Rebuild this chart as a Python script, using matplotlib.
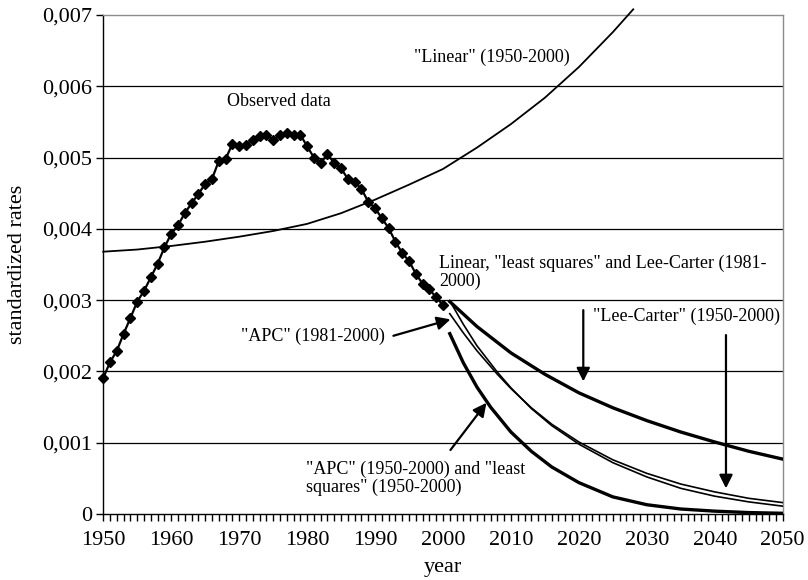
import numpy as np
import matplotlib
matplotlib.use("Agg")
import matplotlib.pyplot as plt
from matplotlib.ticker import FuncFormatter, MultipleLocator

plt.rcParams['font.family'] = ['Liberation Serif', 'DejaVu Serif']

# Observed standardized rates, 1950-2000
obs_years = list(range(1950, 2001))
obs_rates = [
    0.00191, 0.00213, 0.00229, 0.00253, 0.00275, 0.00298, 0.00313, 0.00332, 0.00351, 0.00374,
    0.00393, 0.00405, 0.00422, 0.00436, 0.00449, 0.00463, 0.00470, 0.00495, 0.00498, 0.00519,
    0.00516, 0.00517, 0.00525, 0.00530, 0.00532, 0.00525, 0.00531, 0.00535, 0.00532, 0.00532,
    0.00516, 0.00500, 0.00492, 0.00505, 0.00492, 0.00485, 0.00470, 0.00466, 0.00456, 0.00438,
    0.00429, 0.00415, 0.00401, 0.00382, 0.00366, 0.00355, 0.00337, 0.00323, 0.00315, 0.00304,
    0.00293,
]

# "Linear" model fitted on 1950-2000
lin_years = [1950, 1955, 1960, 1965, 1970, 1975, 1980, 1985, 1990, 1995,
             2000, 2005, 2010, 2015, 2020, 2025, 2028]
lin_rates = [0.00368, 0.00371, 0.00376, 0.00382, 0.00389, 0.00397, 0.00407, 0.00422, 0.00441, 0.00462,
             0.00484, 0.00514, 0.00547, 0.00584, 0.00627, 0.00676, 0.00708]

# Lee-Carter projection fitted on 1950-2000
lc_years = [2001, 2005, 2010, 2015, 2020, 2025, 2030, 2035, 2040, 2045, 2050]
lc_rates = [0.00298, 0.00263, 0.00226, 0.00196, 0.00170, 0.00149, 0.00131, 0.00115, 0.00101, 0.00088, 0.00077]

proj_years = [2001, 2003, 2005, 2008, 2010, 2013, 2016, 2020, 2025, 2030, 2035, 2040, 2045, 2050]
# Linear, "least squares" and Lee-Carter fitted on 1981-2000
recent_rates = [0.00299, 0.00266, 0.00236, 0.00199, 0.00177, 0.00148, 0.00124, 0.00098,
                0.00072, 0.00052, 0.00036, 0.00025, 0.00017, 0.00011]
# "APC" fitted on 1981-2000
apc_recent_rates = [0.00281, 0.00254, 0.00229, 0.00196, 0.00176, 0.00149, 0.00126, 0.00101,
                    0.00076, 0.00057, 0.00042, 0.00031, 0.00022, 0.00016]

# "APC" and "least squares" fitted on 1950-2000
apc_years = [2001, 2003, 2005, 2007, 2010, 2013, 2016, 2020, 2025, 2030, 2035, 2040, 2045, 2050]
apc_rates = [0.00253, 0.00212, 0.00178, 0.00150, 0.00115, 0.00088, 0.00066, 0.00044,
             0.00024, 0.00013, 0.00007, 0.00004, 0.00002, 0.00001]

y_ticks = [0, 0.001, 0.002, 0.003, 0.004, 0.005, 0.006, 0.007]

fig = plt.figure(figsize=(8.08, 5.80), dpi=100)
ax = fig.add_axes([0.1278, 0.1138, 0.8409, 0.8603])

ax.set_xlim(1950, 2050)
ax.set_ylim(0, 0.007)

# horizontal grid lines
ax.hlines(y_ticks[1:-1], 1950, 2050, colors='black', linewidth=0.9, zorder=1)

ax.plot(lin_years, lin_rates, color='black', linewidth=1.3, clip_on=False, zorder=3)
ax.plot(obs_years, obs_rates, color='black', linewidth=1.6, marker='D',
        markersize=5, markerfacecolor='black', markeredgecolor='black',
        clip_on=False, zorder=4)
ax.plot(lc_years, lc_rates, color='black', linewidth=2.4, zorder=3)
ax.plot(proj_years, recent_rates, color='black', linewidth=1.2, zorder=3)
ax.plot(proj_years, apc_recent_rates, color='black', linewidth=1.2, zorder=3)
ax.plot(apc_years, apc_rates, color='black', linewidth=2.4, zorder=3)

# axis styling
for side in ('left', 'bottom'):
    ax.spines[side].set_color('black')
    ax.spines[side].set_linewidth(1.0)
for side in ('top', 'right'):
    ax.spines[side].set_color('#8c8c8c')
    ax.spines[side].set_linewidth(1.0)

ax.set_yticks(y_ticks)
ax.yaxis.set_major_formatter(FuncFormatter(
    lambda v, p: '0' if abs(v) < 1e-12 else f'{v:.3f}'.replace('.', ',')))
ax.xaxis.set_major_locator(MultipleLocator(10))
ax.xaxis.set_minor_locator(MultipleLocator(1))
ax.tick_params(axis='both', which='major', direction='out', length=5, width=1,
               labelsize=16, color='black')
ax.tick_params(axis='x', which='minor', direction='out', length=5, width=1, color='black')
ax.tick_params(axis='x', pad=7)
ax.tick_params(axis='y', pad=3)

ax.set_ylabel('standardized rates', fontsize=16, va='center')
ax.yaxis.set_label_coords(-0.1256, 0.5)
ax.set_xlabel('year', fontsize=16, va='center')
ax.xaxis.set_label_coords(0.5, -0.108)

fs = 13
ax.text(1968.2, 0.00578, 'Observed data', fontsize=fs, ha='left', va='center')
ax.text(2018.7, 0.00641, '"Linear" (1950-2000)', fontsize=fs, ha='right', va='center')
ax.text(1999.4, 0.00339, 'Linear, "least squares" and Lee-Carter (1981-\n2000)',
        fontsize=fs, ha='left', va='center', linespacing=1.05)
ax.text(1991.5, 0.00249, '"APC" (1981-2000)', fontsize=fs, ha='right', va='center')
ax.text(1979.9, 0.000495, '"APC" (1950-2000) and "least\nsquares" (1950-2000)',
        fontsize=fs, ha='left', va='center', linespacing=1.05)
ax.text(2022.1, 0.00277, '"Lee-Carter" (1950-2000)', fontsize=fs, ha='left', va='center')

arrow = dict(arrowstyle='-|>', color='black', lw=1.6, mutation_scale=20,
             shrinkA=0, shrinkB=0)
ax.annotate('', xy=(2001.1, 0.00273), xytext=(1992.7, 0.00250), arrowprops=arrow)
ax.annotate('', xy=(2006.4, 0.00156), xytext=(2001.1, 0.000898), arrowprops=arrow)
ax.annotate('', xy=(2020.65, 0.00186), xytext=(2020.65, 0.00286), arrowprops=arrow)
ax.annotate('', xy=(2041.65, 0.00036), xytext=(2041.65, 0.00251), arrowprops=arrow)

fig.savefig('out.png', dpi=100)
